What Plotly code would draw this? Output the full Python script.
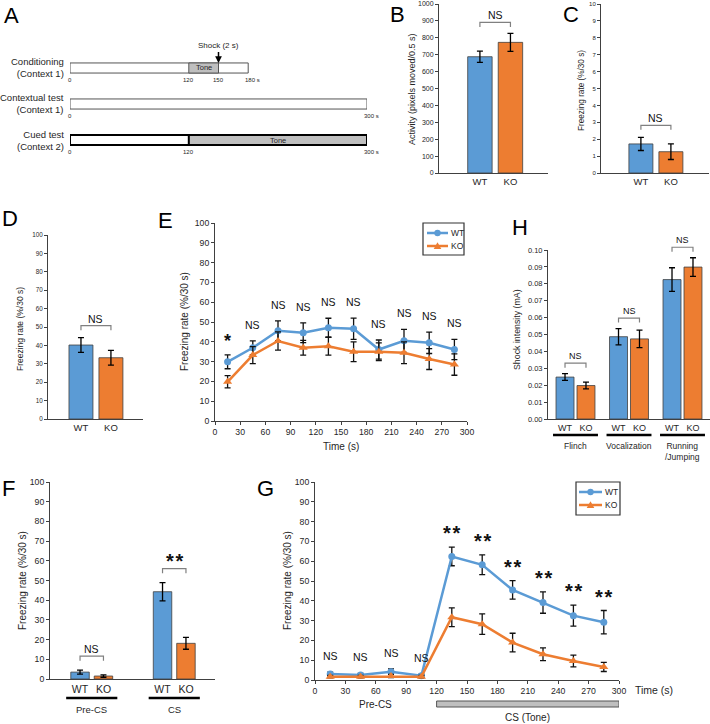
import plotly.graph_objects as go

W, H = 710, 724
FONT = 'Liberation Sans, Arial, sans-serif'
BLUE = '#5B9BD5'
ORANGE = '#ED7D31'
INK = '#262626'
AXC = '#404040'

genotypes = ['WT', 'KO']

# A - protocol schematic (s)
a_rows = ['Conditioning<br>(Context 1)', 'Contextual test<br>(Context 1)', 'Cued test<br>(Context 2)']
a_end = [180, 300, 300]
a_tone = [[120, 150], None, [120, 300]]
a_ticks = [[0, 120, 150, 180], [0, 300], [0, 120, 300]]
a_shock = 150

# B - activity during shock
b_mean = [688, 773]
b_err = [33, 53]
b_sig = 'NS'

# C - freezing on conditioning day
c_mean = [1.72, 1.26]
c_err = [0.39, 0.46]
c_sig = 'NS'

# D - contextual test, whole session
d_mean = [40.2, 33.3]
d_err = [4.0, 4.0]
d_sig = 'NS'

# E - contextual test, 30 s bins
e_time = [15, 45, 75, 105, 135, 165, 195, 225, 255, 285]
e_wt = [29.9, 37.0, 45.6, 44.6, 47.1, 46.6, 36.1, 40.5, 39.5, 36.1]
e_wt_err = [3.5, 3.5, 5.0, 5.0, 4.8, 5.4, 4.8, 5.8, 5.4, 5.1]
e_ko = [19.8, 33.3, 40.4, 37.0, 37.8, 35.0, 35.0, 34.5, 31.3, 28.5]
e_ko_err = [3.1, 4.3, 4.6, 3.7, 4.5, 5.0, 4.5, 5.5, 5.3, 5.4]
e_sig = ['*', 'NS', 'NS', 'NS', 'NS', 'NS', 'NS', 'NS', 'NS', 'NS']

# H - shock thresholds
h_groups = ['Flinch', 'Vocalization', 'Running<br>/Jumping']
h_wt = [0.0248, 0.0487, 0.0825]
h_wt_err = [0.0020, 0.0048, 0.0070]
h_ko = [0.0198, 0.0474, 0.0899]
h_ko_err = [0.0020, 0.0052, 0.0055]
h_sig = ['NS', 'NS', 'NS']

# F - cued test, pre-CS vs CS
f_phases = ['Pre-CS', 'CS']
f_wt = [3.5, 44.3]
f_wt_err = [1.0, 4.6]
f_ko = [1.5, 18.1]
f_ko_err = [0.6, 3.0]
f_sig = ['NS', '**']

# G - cued test, 30 s bins
g_time = [15, 45, 75, 105, 135, 165, 195, 225, 255, 285]
g_wt = [3.0, 2.5, 4.2, 2.2, 62.4, 58.2, 45.5, 39.1, 32.5, 29.2]
g_wt_err = [1.0, 0.8, 1.4, 0.8, 4.7, 5.0, 4.7, 5.4, 5.3, 5.9]
g_ko = [1.7, 1.7, 2.0, 1.7, 31.7, 28.2, 18.9, 13.0, 9.6, 6.6]
g_ko_err = [0.6, 0.6, 0.8, 0.6, 4.7, 5.2, 4.7, 3.2, 3.0, 2.3]
g_sig = ['NS', 'NS', 'NS', 'NS', '**', '**', '**', '**', '**', '**']
g_precs = [0, 120]
g_tone = [120, 300]

# panel boxes in window pixels: suffix, x0, x1, y_bottom, y_top, x range, y range
panels = {
    'A': ('', 70, 367, 158, 50, [0, 300], [0, 3]),
    'B': ('2', 439, 548, 173, 4, [-1.34, 2.23], [0, 1000]),
    'C': ('3', 601, 709, 173, 4, [-1.33, 2.27], [0, 10]),
    'D': ('4', 48, 143, 419, 235, [-1.1, 2.07], [0, 100]),
    'E': ('5', 215, 467, 421, 223, [0, 300], [0, 100]),
    'H': ('6', 548, 710, 419, 250, [-0.514, 2.514], [0, 0.1]),
    'F': ('7', 50, 215, 679, 482, [-0.506, 1.494], [0, 100]),
    'G': ('8', 315, 619, 680, 482, [0, 300], [0, 100]),
}


def pxx(p, v):
    s, x0, x1, yb, yt, xr, yr = panels[p]
    return x0 + (v - xr[0]) / (xr[1] - xr[0]) * (x1 - x0)


def pxy(p, v):
    s, x0, x1, yb, yt, xr, yr = panels[p]
    return yb - (v - yr[0]) / (yr[1] - yr[0]) * (yb - yt)


def X(px):
    return px / W


def Y(py):
    return 1 - py / H


def stars(s):
    return '<b>' + '\u200a'.join(s) + '</b>' if '*' in s else s


fig = go.Figure()
shapes = []
ann = []


def text(px, py, s, size, **kw):
    d = dict(x=X(px), y=Y(py), xref='paper', yref='paper', text=s, showarrow=False,
             xanchor='center', yanchor='middle',
             font=dict(size=size, family=FONT, color=kw.pop('color', INK)))
    d.update(kw)
    ann.append(d)


def bracket(p, xa, xb, top, label, size=10.5, gap=11):
    yb = pxy(p, top) - gap
    xa, xb = pxx(p, xa), pxx(p, xb)
    shapes.append(dict(type='path', xref='paper', yref='paper',
                       path=f'M {X(xa)},{Y(yb + 4.5)} L {X(xa)},{Y(yb)} L {X(xb)},{Y(yb)} L {X(xb)},{Y(yb + 4.5)}',
                       line=dict(color='#808080', width=1.2)))
    if '*' in label:
        text((xa + xb) / 2, yb - 8, stars(label), 20, color='#111')
    else:
        text((xa + xb) / 2, yb - 7, label, size, color='#111')


def legend_box(x0, y0, x1, y1, rows):
    # rows: (y, line x0, line x1, colour, symbol, label)
    shapes.append(dict(type='rect', xref='paper', yref='paper', x0=X(x0), x1=X(x1), y0=Y(y1), y1=Y(y0),
                       line=dict(color='#333', width=1.2), fillcolor='white', layer='above'))
    for ry, lx0, lx1, col, sym, lab in rows:
        shapes.append(dict(type='line', xref='paper', yref='paper', x0=X(lx0), x1=X(lx1), y0=Y(ry), y1=Y(ry),
                           line=dict(color=col, width=2.5), layer='above'))
        cx = (lx0 + lx1) / 2
        if sym == 'circle':
            shapes.append(dict(type='circle', xref='paper', yref='paper', x0=X(cx - 3.2), x1=X(cx + 3.2),
                               y0=Y(ry + 3.2), y1=Y(ry - 3.2), fillcolor=col, line=dict(width=0), layer='above'))
        else:
            shapes.append(dict(type='path', xref='paper', yref='paper', layer='above',
                               path=f'M {X(cx - 3.8)},{Y(ry + 3)} L {X(cx + 3.8)},{Y(ry + 3)} L {X(cx)},{Y(ry - 3.8)} Z',
                               fillcolor=col, line=dict(width=0)))
        text(lx1 + 1, ry, lab, 8.5, xanchor='left')


# axes
for p, (s, x0, x1, yb, yt, xr, yr) in panels.items():
    fig.layout['xaxis' + s] = dict(domain=[X(x0), X(x1)], range=xr, anchor='y' + s,
                                   showgrid=False, zeroline=False, showline=True,
                                   linecolor=AXC, linewidth=1, ticks='',
                                   tickfont=dict(size=9.5, color=INK, family=FONT))
    fig.layout['yaxis' + s] = dict(domain=[Y(yb), Y(yt)], range=yr, anchor='x' + s,
                                   showgrid=False, zeroline=False, showline=True,
                                   linecolor=AXC, linewidth=1, ticks='outside', ticklen=3,
                                   tickcolor=AXC, tickfont=dict(size=7, color=INK, family=FONT))

fig.layout.xaxis.visible = False
fig.layout.yaxis.visible = False
fig.layout.yaxis2.update(dtick=100)
fig.layout.yaxis3.update(dtick=1, tickfont=dict(size=6))
fig.layout.yaxis4.update(dtick=10, tickfont=dict(size=6.3))
fig.layout.yaxis6.update(dtick=0.01, tickformat='.2f', tickfont=dict(size=7.5))
fig.layout.xaxis6.update(tickfont=dict(size=9))
fig.layout.xaxis7.update(tickfont=dict(size=10.5))
for s in ['5', '7', '8']:
    fig.layout['yaxis' + s].update(dtick=10, tickfont=dict(size=8.7))
for s in ['5', '8']:
    fig.layout['xaxis' + s].update(dtick=30, ticks='outside', ticklen=3, tickcolor=AXC,
                                   tickfont=dict(size=8.7))
for s in ['2', '3', '4']:
    fig.layout['xaxis' + s].update(type='category')

# ---- A: schematic
for i, (lab, end, tone, ticks) in enumerate(zip(a_rows, a_end, a_tone, a_ticks)):
    yc = 2.5 - i
    bold = i == 2
    line = dict(color='black' if bold else '#555', width=2 if bold else 1)
    shapes.append(dict(type='rect', xref='x', yref='y', x0=0, x1=end, y0=yc - 0.14, y1=yc + 0.14,
                       fillcolor='white', line=line))
    if tone:
        shapes.append(dict(type='rect', xref='x', yref='y', x0=tone[0], x1=tone[1],
                           y0=yc - 0.14, y1=yc + 0.14, fillcolor='#BFBFBF', line=line))
        text(pxx('A', sum(tone) / 2), pxy('A', yc), 'Tone', 7.5)
    text(66, pxy('A', yc), lab, 9.5, xanchor='right', align='right')
    for j, t in enumerate(ticks):
        last = j == len(ticks) - 1 and t > 0
        text(pxx('A', t) - (5 if last else 0), pxy('A', yc - 0.14) + 2,
             f'{t} s' if last else str(t), 6, yanchor='top', xanchor='left' if last else 'center')
ann.append(dict(x=a_shock, y=2.5 + 0.14, xref='x', yref='y', text='Shock (2 s)', showarrow=True,
                ax=0, ay=-17, arrowhead=2, arrowsize=0.9, arrowwidth=1.5, arrowcolor='black',
                font=dict(size=8, family=FONT, color=INK)))

# ---- B, C, D: simple bars
for p, mean, err, sig in [('B', b_mean, b_err, b_sig), ('C', c_mean, c_err, c_sig),
                          ('D', d_mean, d_err, d_sig)]:
    s = panels[p][0]
    fig.add_bar(x=genotypes, y=mean, width=0.8, xaxis='x' + s, yaxis='y' + s, showlegend=False,
                marker=dict(color=[BLUE, ORANGE], line=dict(color=AXC, width=0.8)),
                error_y=dict(type='data', array=err, color='black', thickness=1.3, width=3))
    bracket(p, 0, 1, max(m + e for m, e in zip(mean, err)), sig, gap=12 if p != 'B' else 11)

# ---- F and H: grouped bars with numeric positions
for p, groups, wt, wte, ko, koe, off, bw, sigs, ul in [
        ('F', f_phases, f_wt, f_wt_err, f_ko, f_ko_err, 0.142, 0.224, f_sig, 0.31),
        ('H', h_groups, h_wt, h_wt_err, h_ko, h_ko_err, 0.196, 0.336, h_sig, 0.42)]:
    s = panels[p][0]
    idx = list(range(len(groups)))
    xw = [g - off for g in idx]
    xk = [g + off for g in idx]
    for xs, ys, es, col in [(xw, wt, wte, BLUE), (xk, ko, koe, ORANGE)]:
        fig.add_bar(x=xs, y=ys, width=bw, xaxis='x' + s, yaxis='y' + s, showlegend=False,
                    marker=dict(color=col, line=dict(color=AXC, width=0.8)),
                    error_y=dict(type='data', array=es, color='black', thickness=1.3, width=3))
    fig.layout['xaxis' + s].update(tickvals=sorted(xw + xk), ticktext=genotypes * len(groups))
    yb = panels[p][3]
    for g, grp, sig in zip(idx, groups, sigs):
        top = max(wt[g] + wte[g], ko[g] + koe[g])
        if p == 'F':
            bracket(p, g - off, g + off, top, sig, size=10.5, gap=14)
        else:
            bracket(p, g - off, g + off, top, sig, size=9, gap=10.5)
        uy = yb + (19 if p == 'F' else 16)
        shapes.append(dict(type='line', xref='paper', yref='paper',
                           x0=X(pxx(p, g - ul)), x1=X(pxx(p, g + ul)), y0=Y(uy), y1=Y(uy),
                           line=dict(color='black', width=2.5)))
        text(pxx(p, g), uy + 4, grp, 9.5 if p == 'F' else 8.5, yanchor='top')

# ---- E and G: time courses
for p, t, wt, wte, ko, koe, sigs, star_shift in [
        ('E', e_time, e_wt, e_wt_err, e_ko, e_ko_err, e_sig, 14),
        ('G', g_time, g_wt, g_wt_err, g_ko, g_ko_err, g_sig, 14)]:
    s = panels[p][0]
    fig.add_scatter(x=t, y=wt, name='WT', mode='lines+markers', xaxis='x' + s, yaxis='y' + s,
                    showlegend=False, line=dict(color=BLUE, width=2.5),
                    marker=dict(symbol='circle', size=7, color=BLUE),
                    error_y=dict(type='data', array=wte, color='#111', thickness=1.3, width=3))
    fig.add_scatter(x=t, y=ko, name='KO', mode='lines+markers', xaxis='x' + s, yaxis='y' + s,
                    showlegend=False, line=dict(color=ORANGE, width=2.5),
                    marker=dict(symbol='triangle-up', size=8, color=ORANGE),
                    error_y=dict(type='data', array=koe, color='#111', thickness=1.3, width=3))
    for i, sig in enumerate(sigs):
        top = max(wt[i] + wte[i], ko[i] + koe[i])
        star = '*' in sig
        text(pxx(p, t[i]), pxy(p, top) - (star_shift if star else 16), stars(sig),
             (18 if p == 'E' else 20) if star else 10.5, color='#111')

legend_box(423, 223, 464, 255, [(233, 427, 448, BLUE, 'circle', 'WT'),
                                (246, 427, 448, ORANGE, 'triangle', 'KO')])
legend_box(576, 482, 620, 515, [(492, 579, 602, BLUE, 'circle', 'WT'),
                                (505, 579, 602, ORANGE, 'triangle', 'KO')])

text(pxx('E', 150), 446, 'Time (s)', 10)
text(654, 690, 'Time (s)', 10.5)
text(pxx('G', sum(g_precs) / 2), 704, 'Pre-CS', 10)
shapes.append(dict(type='rect', xref='x8', yref='paper', x0=g_tone[0], x1=g_tone[1],
                   y0=Y(707), y1=Y(701), fillcolor='#BFBFBF', line=dict(color='#555', width=1)))
text(pxx('G', sum(g_tone) / 2), 717, 'CS (Tone)', 10)

# y axis titles
for px, py, s, size in [(412, 89, 'Activity (pixels moved/0.5 s)', 9),
                        (581, 91, 'Freezing rate (%/30 s)', 8.2),
                        (20, 329, 'Freezing rate (%/30 s)', 8.5),
                        (185, 322, 'Freezing rate (%/30 s)', 10),
                        (517, 330, 'Shock intensity (mA)', 8.8),
                        (22, 581, 'Freezing rate (%/30 s)', 10),
                        (287, 581, 'Freezing rate (%/30 s)', 10)]:
    text(px, py, s, size, textangle=-90)

# panel letters
for px, py, s in [(12, 16, 'A'), (397, 14, 'B'), (571, 14, 'C'), (10, 219, 'D'), (165, 220, 'E'),
                  (520, 228, 'H'), (8, 488, 'F'), (265, 488, 'G')]:
    text(px, py, s, 22, color='black')

fig.update_layout(
    width=W, height=H, margin=dict(l=0, r=0, t=0, b=0, autoexpand=False),
    paper_bgcolor='white', plot_bgcolor='white',
    font=dict(family=FONT, color=INK),
    barmode='overlay', showlegend=False,
    shapes=shapes, annotations=ann,
)

# the page has a default 8px body margin; drop it so the figure fills the window
fig.write_html("out.html", config={'displayModeBar': False},
               post_script="document.body.style.margin='0';document.body.style.overflow='hidden';")
